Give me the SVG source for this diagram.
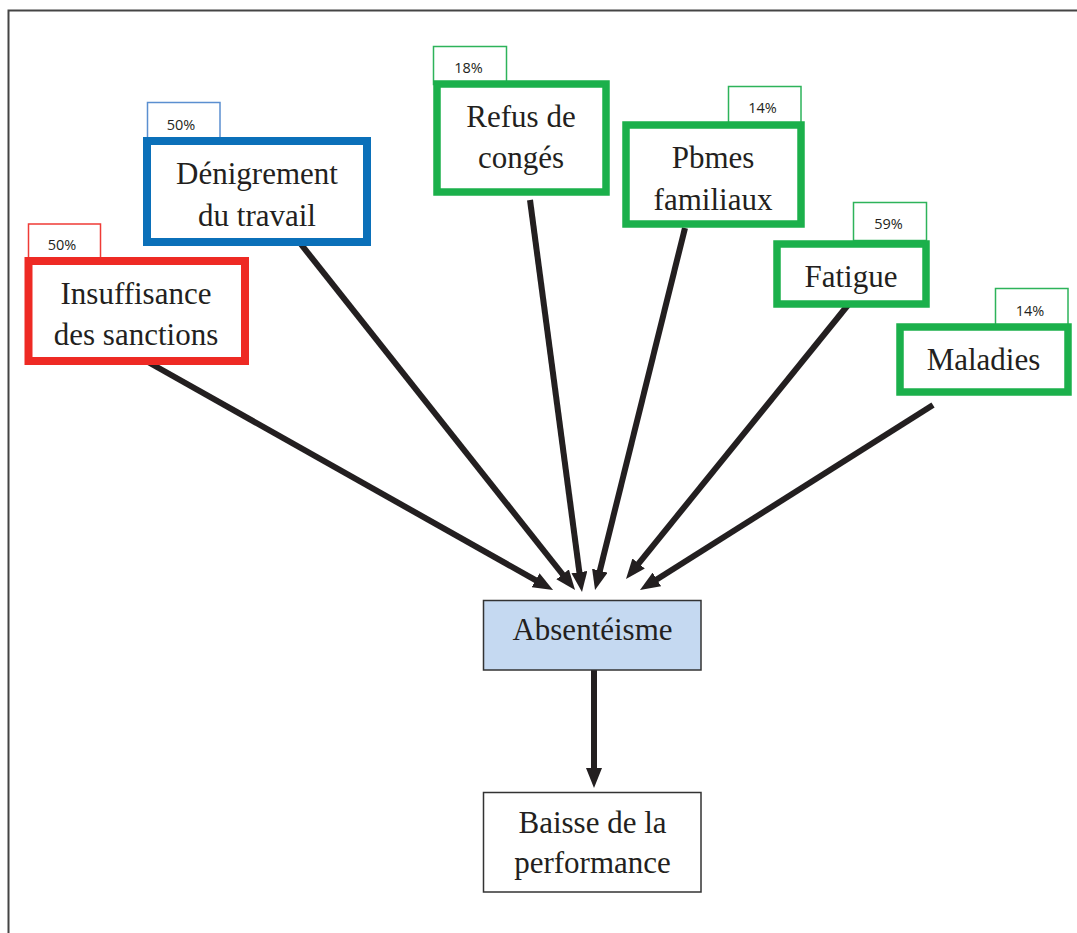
<svg xmlns="http://www.w3.org/2000/svg" width="1077" height="933" viewBox="0 0 1077 933">
<style>
.lbl{font-family:"Liberation Serif","Times New Roman",serif;font-size:31px;fill:#231f20;text-anchor:middle}
.pct{font-family:"Open Sans","Liberation Sans",sans-serif;font-size:14.5px;fill:#231f20;text-anchor:middle}
.red{fill:#fff;stroke:#ee2a24;stroke-width:8}
.blue{fill:#fff;stroke:#0b70b9;stroke-width:8}
.green{fill:#fff;stroke:#1bb04b;stroke-width:7.5}
.tred{fill:#fff;stroke:#ef3b36;stroke-width:1.5}
.tblue{fill:#fff;stroke:#5b8fd0;stroke-width:1.5}
.tgreen{fill:#fff;stroke:#2db35a;stroke-width:1.5}
.plain{stroke:#333;stroke-width:1.5}
.conn line{stroke:#231f20;stroke-width:6;marker-end:url(#ah)}
</style>
<defs>
<marker id="ah" markerUnits="userSpaceOnUse" markerWidth="20" markerHeight="16" viewBox="0 0 20 16" refX="4" refY="8" orient="auto">
<path d="M0,0 L20,8 L0,16 z" fill="#231f20"/>
</marker>
</defs>
<rect width="1077" height="933" fill="#fff"/>
<path d="M8.5,933 V10.5 H1077" fill="none" stroke="#444" stroke-width="2"/>
<g class="conn" id="connectors">
<line x1="148" y1="362" x2="539.1" y2="582.1"/>
<line x1="300" y1="243" x2="565.1" y2="577.5"/>
<line x1="530" y1="200" x2="579.9" y2="576.1"/>
<line x1="685" y1="228" x2="598.9" y2="574.5"/>
<line x1="848" y1="305" x2="636.1" y2="566.6"/>
<line x1="933" y1="405" x2="653.5" y2="581.5"/>
<line x1="594" y1="670" x2="594" y2="772"/>
</g>
<g id="insuffisance">
<rect class="tred" x="28.5" y="224" width="72" height="38"/>
<rect class="red" x="28.5" y="261" width="216.5" height="100"/>
<text class="pct" x="62" y="250">50%</text>
<text class="lbl" x="136" y="304">Insuffisance</text>
<text class="lbl" x="136" y="345">des sanctions</text>
</g>
<g id="denigrement">
<rect class="tblue" x="147.5" y="102.5" width="72.5" height="38"/>
<rect class="blue" x="147" y="141" width="220" height="101"/>
<text class="pct" x="181" y="130">50%</text>
<text class="lbl" x="257" y="183.5">Dénigrement</text>
<text class="lbl" x="257" y="225.5">du travail</text>
</g>
<g id="refus">
<rect class="tgreen" x="433.5" y="46.5" width="73" height="38"/>
<rect class="green" x="437" y="84" width="169" height="108"/>
<text class="pct" x="468.5" y="73">18%</text>
<text class="lbl" x="521" y="127">Refus de</text>
<text class="lbl" x="521" y="168">congés</text>
</g>
<g id="pbmes">
<rect class="tgreen" x="728.5" y="86.5" width="72.5" height="38"/>
<rect class="green" x="626" y="125" width="175" height="99"/>
<text class="pct" x="762.5" y="113">14%</text>
<text class="lbl" x="713" y="168">Pbmes</text>
<text class="lbl" x="713" y="210">familiaux</text>
</g>
<g id="fatigue">
<rect class="tgreen" x="853.5" y="202.5" width="73" height="38"/>
<rect class="green" x="777" y="244" width="149" height="60"/>
<text class="pct" x="888.5" y="229">59%</text>
<text class="lbl" x="851" y="287">Fatigue</text>
</g>
<g id="maladies">
<rect class="tgreen" x="995.5" y="288.5" width="72.5" height="38"/>
<rect class="green" x="900" y="327" width="168" height="65"/>
<text class="pct" x="1030" y="316">14%</text>
<text class="lbl" x="983.5" y="370">Maladies</text>
</g>
<g id="absenteisme">
<rect class="plain" x="483.5" y="600.5" width="217.5" height="69.5" fill="#c5d9f1"/>
<text class="lbl" x="592.5" y="640">Absentéisme</text>
</g>
<g id="baisse">
<rect class="plain" x="483.5" y="792.5" width="217.5" height="99.5" fill="#fff"/>
<text class="lbl" x="592.5" y="833">Baisse de la</text>
<text class="lbl" x="592.5" y="873">performance</text>
</g>
</svg>
